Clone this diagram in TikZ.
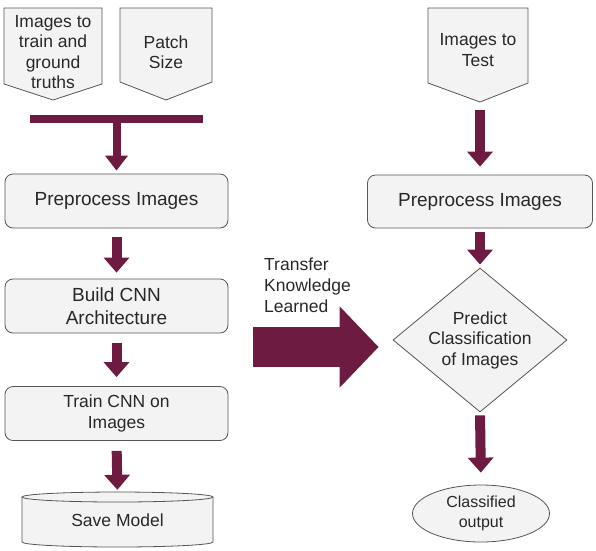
\documentclass[tikz,border=0pt]{standalone}
\usepackage{fontspec}
\setmainfont{Liberation Sans}
\usetikzlibrary{arrows.meta,shapes.geometric}
\definecolor{maroon}{RGB}{110,27,66}
\definecolor{boxfill}{RGB}{243,243,243}
\definecolor{boxline}{RGB}{85,85,85}
\definecolor{txt}{RGB}{40,40,40}
\tikzset{
  shp/.style={draw=boxline, fill=boxfill, line width=0.8pt},
  lbl/.style={align=center, text=txt, inner sep=0pt, font=\fontsize{17.5}{20.5}\selectfont},
  big/.style={font=\fontsize{19}{22.5}\selectfont},
  box/.style={shp, lbl, rounded corners=8pt, minimum width=223pt, minimum height=54pt},
  flow/.style={draw=maroon, line width=10pt, -{Triangle[width=25pt,length=15pt]}},
}
\begin{document}
\begin{tikzpicture}[x=1pt,y=-1pt]
\useasboundingbox (0,0) rectangle (596,550);
% input pentagons
\draw[shp] (4,8) -- (102,8) -- (102,84) -- (53,100) -- (4,84) -- cycle;
\node[lbl] (imgs) at (53,52) {Images to\\train and\\ground\\truths};
\draw[shp] (120,8) -- (212,8) -- (212,82) -- (166,100) -- (120,82) -- cycle;
\node[lbl] (patch) at (166,52) {Patch\\Size};
\draw[shp] (428,8) -- (528,8) -- (528,83) -- (480,102) -- (428,83) -- cycle;
\node[lbl] (test) at (478,50) {Images to\\Test};
\coordinate (testtip) at (480,102);
% merge bar
\fill[maroon] (30,115) rectangle (203,123);
\coordinate (bar) at (116.5,119);
% left column
\node[box, big] (pre1) at (116.5,201) {Preprocess Images};
\node[box, big] (build) at (116.5,306) {Build CNN\\Architecture};
\node[box] (train) at (116.5,413.5) {Train CNN on\\Images};
% cylinder
\draw[shp] (22,497) -- (22,542) arc[start angle=180, end angle=0, x radius=95.5, y radius=5] -- (213,497);
\draw[shp] (117.5,497) ellipse[x radius=95.5, y radius=5];
\node[lbl, minimum width=191pt, minimum height=50pt] (save) at (117.5,520) {Save Model};
% right column
\node[box, big, minimum width=225pt, minimum height=53pt] (pre2) at (480,201.5) {Preprocess Images};
\node[diamond, shp, lbl, aspect=1.21, minimum width=174pt, minimum height=144pt] (pred) at (480,340) {Predict\\Classification\\of Images};
\node[ellipse, shp, lbl, minimum width=137pt, minimum height=57pt, font=\fontsize{16}{20}\selectfont] (out) at (481,513.5) {Classified\\output};
% transfer
\node[lbl, align=left, anchor=north west, font=\fontsize{17.5}{21}\selectfont] (tkl) at (264,258) {Transfer\\Knowledge\\Learned};
\coordinate (tk) at (253,347);
\draw[draw=maroon, line width=40pt, -{Triangle[width=79pt,length=39pt]}] (tk) -- ([xshift=-14pt]pred.west |- tk);
% arrows
\draw[flow, line width=8pt, -{Triangle[width=22pt,length=15pt]}, shorten >=3pt] (bar) -- (pre1.north);
\draw[flow, shorten <=9pt, shorten >=6pt] (pre1.south) -- (build.north);
\draw[flow, shorten <=10pt, shorten >=9pt] (build.south) -- (train.north);
\draw[flow, shorten <=10pt, shorten >=5pt] (train.south) -- (save.north);
\draw[flow, shorten <=8pt, shorten >=8pt] (testtip) -- (pre2.north);
\draw[flow, shorten <=4pt, shorten >=3pt] (pre2.south) -- (pred.north);
\draw[flow, shorten <=3pt, shorten >=12pt] (pred.south) -- (out.north);
\end{tikzpicture}
\end{document}
